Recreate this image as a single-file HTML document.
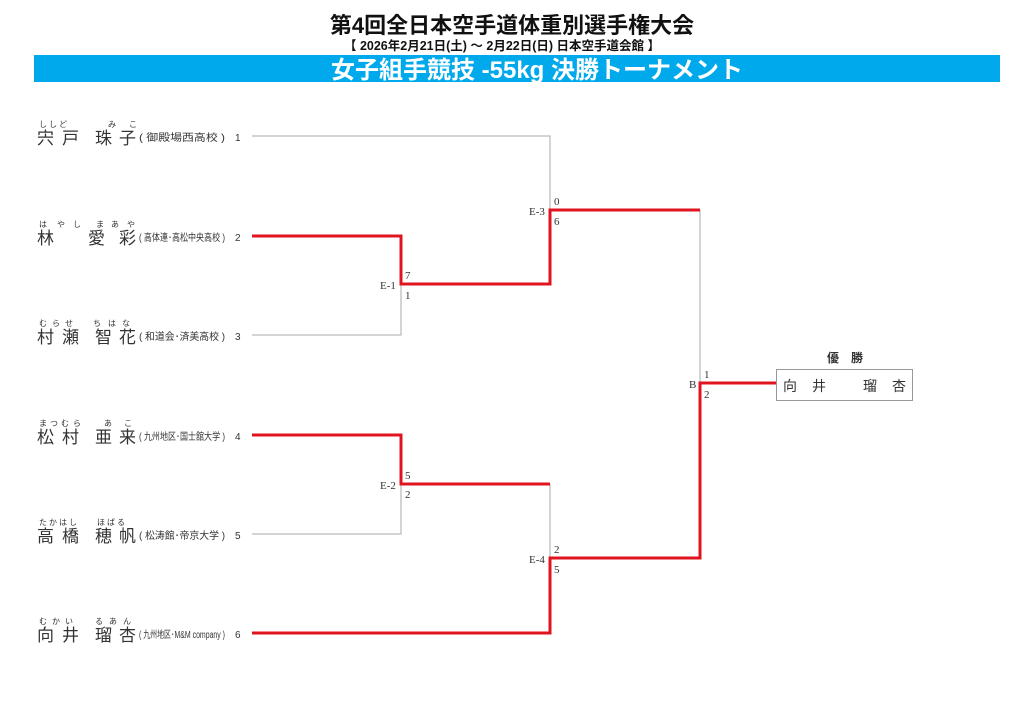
<!DOCTYPE html>
<html><head><meta charset="utf-8"><style>
html,body{margin:0;padding:0;background:#fff;}
svg{display:block;}
text{font-family:"Liberation Sans","Noto Sans CJK JP",sans-serif;}
.s{font-family:"Liberation Serif","Noto Serif CJK SC",serif;font-size:11px;fill:#333;}
.nm{font-size:17px;fill:#333;}
.fu{font-size:8px;fill:#333;}
.sc{font-size:10px;fill:#333;}
.no{font-size:10px;fill:#333;}
</style></head><body>
<svg width="1024" height="724" viewBox="0 0 1024 724" xmlns="http://www.w3.org/2000/svg">
<text x="512" y="33" text-anchor="middle" font-size="22" font-weight="bold" fill="#111">第4回全日本空手道体重別選手権大会</text>
<text x="502" y="50" text-anchor="middle" font-size="12.5" font-weight="bold" fill="#111">【 2026年2月21日(土) ～ 2月22日(日)  日本空手道会館 】</text>
<rect x="34" y="55" width="966" height="27" fill="#00a9ec"/>
<text x="537" y="78" text-anchor="middle" font-size="24" font-weight="bold" fill="#fff">女子組手競技 -55kg 決勝トーナメント</text>

<g stroke="#aaa" stroke-width="1" fill="none">
<path d="M252 136H550V210"/>
<path d="M252 335H401V284"/>
<path d="M252 534H401V484"/>
<path d="M550 484V558"/>
<path d="M700 210V383"/>
</g>
<g stroke="#e0141e" stroke-width="3" fill="none" stroke-linejoin="miter">
<path d="M252 236H401V284H550V210H700"/>
<path d="M252 435H401V484H550"/>
<path d="M252 633H550V558H700V383H776"/>
</g>

<text class="s" x="380" y="289">E-1</text><text class="s" x="405" y="279">7</text><text class="s" x="405" y="299">1</text>
<text class="s" x="529" y="215">E-3</text><text class="s" x="554" y="205">0</text><text class="s" x="554" y="225">6</text>
<text class="s" x="380" y="489">E-2</text><text class="s" x="405" y="479">5</text><text class="s" x="405" y="498">2</text>
<text class="s" x="529" y="563">E-4</text><text class="s" x="554" y="553">2</text><text class="s" x="554" y="573">5</text>
<text class="s" x="689" y="388">B</text><text class="s" x="704" y="378">1</text><text class="s" x="704" y="398">2</text>

<text x="845" y="362" text-anchor="middle" font-size="12" font-weight="bold" fill="#333">優　勝</text>
<rect x="776.5" y="369.5" width="136" height="31" fill="#fff" stroke="#999"/>
<text x="783" y="391" font-size="14" fill="#333">向</text><text x="812" y="391" font-size="14" fill="#333">井</text>
<text x="863" y="391" font-size="14" fill="#333">瑠</text><text x="892" y="391" font-size="14" fill="#333">杏</text>

<g>
<text class="fu" x="39" y="127">し</text><text class="fu" x="49" y="127">し</text><text class="fu" x="59" y="127">ど</text><text class="fu" x="108" y="127">み</text><text class="fu" x="129" y="127">こ</text>
<text class="nm" x="37" y="144">宍</text><text class="nm" x="62" y="144">戸</text><text class="nm" x="95" y="144">珠</text><text class="nm" x="119" y="144">子</text>
<text class="sc" x="139" y="141" textLength="86" lengthAdjust="spacingAndGlyphs">( 御殿場西高校 )</text><text class="no" x="235" y="141">1</text>

<text class="fu" x="39" y="227">は</text><text class="fu" x="57" y="227">や</text><text class="fu" x="73" y="227">し</text><text class="fu" x="96" y="227">ま</text><text class="fu" x="111" y="227">あ</text><text class="fu" x="127" y="227">や</text>
<text class="nm" x="37" y="244">林</text><text class="nm" x="88" y="244">愛</text><text class="nm" x="119" y="244">彩</text>
<text class="sc" x="139" y="241" textLength="86" lengthAdjust="spacingAndGlyphs">( 高体連･高松中央高校 )</text><text class="no" x="235" y="241">2</text>

<text class="fu" x="39" y="326">む</text><text class="fu" x="52" y="326">ら</text><text class="fu" x="65" y="326">せ</text><text class="fu" x="93" y="326">ち</text><text class="fu" x="108" y="326">は</text><text class="fu" x="122" y="326">な</text>
<text class="nm" x="37" y="343">村</text><text class="nm" x="62" y="343">瀬</text><text class="nm" x="95" y="343">智</text><text class="nm" x="119" y="343">花</text>
<text class="sc" x="139" y="340" textLength="86" lengthAdjust="spacingAndGlyphs">( 和道会･済美高校 )</text><text class="no" x="235" y="340">3</text>

<text class="fu" x="39" y="426">ま</text><text class="fu" x="50" y="426">つ</text><text class="fu" x="61" y="426">む</text><text class="fu" x="73" y="426">ら</text><text class="fu" x="104" y="426">あ</text><text class="fu" x="124" y="426">こ</text>
<text class="nm" x="37" y="443">松</text><text class="nm" x="62" y="443">村</text><text class="nm" x="95" y="443">亜</text><text class="nm" x="119" y="443">来</text>
<text class="sc" x="139" y="440" textLength="86" lengthAdjust="spacingAndGlyphs">( 九州地区･国士舘大学 )</text><text class="no" x="235" y="440">4</text>

<text class="fu" x="39" y="525">た</text><text class="fu" x="49" y="525">か</text><text class="fu" x="59" y="525">は</text><text class="fu" x="69" y="525">し</text><text class="fu" x="97" y="525">ほ</text><text class="fu" x="107" y="525">ば</text><text class="fu" x="117" y="525">る</text>
<text class="nm" x="37" y="542">高</text><text class="nm" x="62" y="542">橋</text><text class="nm" x="95" y="542">穂</text><text class="nm" x="119" y="542">帆</text>
<text class="sc" x="139" y="539" textLength="86" lengthAdjust="spacingAndGlyphs">( 松涛館･帝京大学 )</text><text class="no" x="235" y="539">5</text>

<text class="fu" x="39" y="624">む</text><text class="fu" x="52" y="624">か</text><text class="fu" x="65" y="624">い</text><text class="fu" x="95" y="624">る</text><text class="fu" x="109" y="624">あ</text><text class="fu" x="123" y="624">ん</text>
<text class="nm" x="37" y="641">向</text><text class="nm" x="62" y="641">井</text><text class="nm" x="95" y="641">瑠</text><text class="nm" x="119" y="641">杏</text>
<text class="sc" x="139" y="638" textLength="86" lengthAdjust="spacingAndGlyphs">( 九州地区･M&amp;M company )</text><text class="no" x="235" y="638">6</text>
</g>
</svg>
</body></html>
